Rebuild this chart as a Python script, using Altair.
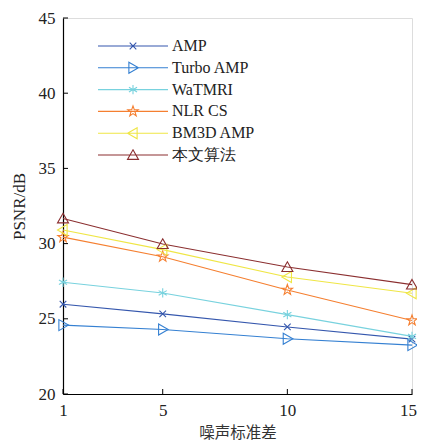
import altair as alt
import pandas as pd

x_vals = [1, 5, 10, 15]
methods = ["AMP", "Turbo AMP", "WaTMRI", "NLR CS", "BM3D AMP", "本文算法"]
amp = [25.97, 25.33, 24.46, 23.65]
turbo_amp = [24.58, 24.29, 23.67, 23.25]
watmri = [27.43, 26.72, 25.28, 23.83]
nlr_cs = [30.43, 29.13, 26.92, 24.89]
bm3d_amp = [30.90, 29.60, 27.78, 26.70]
ours = [31.67, 29.97, 28.44, 27.27]
series = [amp, turbo_amp, watmri, nlr_cs, bm3d_amp, ours]
colors = ["#3557ad", "#3580d2", "#78d2de", "#f57f30", "#efe645", "#8b2f30"]
y_ticks = [20, 25, 30, 35, 40, 45]

# marker paths (unit coordinates)
star = ("M0,-1L0.235,-0.324L0.951,-0.309L0.380,0.124L0.588,0.809L0,0.4"
        "L-0.588,0.809L-0.380,0.124L-0.951,-0.309L-0.235,-0.324Z")
markers = [
    "M-0.6,-0.6L0.6,0.6M-0.6,0.6L0.6,-0.6",
    "M-0.75,-1L1,0L-0.75,1Z",
    "M0,-0.85L0,0.85M-0.74,-0.42L0.74,0.42M-0.74,0.42L0.74,-0.42",
    star,
    "M0.75,-1L-1,0L0.75,1Z",
    "M0,-0.95L1,0.8L-1,0.8Z",
]
msize = 121  # scale factor 5.5 px per unit
half_line = 35 / 5.5
legend_paths = [f"M{-half_line:.3f},0L{half_line:.3f},0" + m for m in markers]

rows = []
for name, vals in zip(methods, series):
    for xv, yv in zip(x_vals, vals):
        rows.append({"x": xv, "y": yv, "method": name})
df = pd.DataFrame(rows)

serif = "Liberation Serif, Times New Roman, serif"
xscale = alt.Scale(domain=[1, 15], nice=False)
yscale = alt.Scale(domain=[20, 45], nice=False, zero=False)

xs = alt.X("x:Q", scale=xscale,
           axis=alt.Axis(values=x_vals, title="噪声标准差", tickSize=0,
                         labelFont=serif, labelFontSize=17, labelColor="#222",
                         labelPadding=8, labelFlush=False,
                         labelOffset=alt.condition("datum.value == 15",
                                                   alt.value(-4), alt.value(0)),
                         titleFont="Noto Sans CJK SC",
                         titleFontSize=15.5, titleFontWeight="normal",
                         titleColor="#333", titlePadding=7, grid=False,
                         domainColor="#000", domainWidth=1.2))
ys = alt.Y("y:Q", scale=yscale,
           axis=alt.Axis(values=y_ticks, title="PSNR/dB", tickSize=0,
                         labelFont=serif, labelFontSize=17, labelColor="#222",
                         labelPadding=8, labelFlush=False,
                         titleFont=serif, titleFontSize=17,
                         titleFontWeight="normal", titleColor="#222",
                         titlePadding=10, grid=False,
                         domainColor="#000", domainWidth=1.2))
cscale = alt.Scale(domain=methods, range=colors)
color = alt.Color("method:N", scale=cscale)

base = alt.Chart(df)
lines = base.mark_line(strokeWidth=1.1).encode(x=xs, y=ys, color=color)

point_layers = []
for name, m in zip(methods, markers):
    point_layers.append(
        base.transform_filter(alt.datum.method == name)
        .mark_point(shape=m, size=msize, strokeWidth=1.1, filled=False, opacity=1)
        .encode(x=xs, y=ys, color=color)
    )

leg = alt.Legend(title=None, orient="none", legendX=62, legendY=20, padding=0,
                 labelFont=serif, labelFontSize=16, labelColor="#222",
                 labelOffset=31, rowPadding=5.8, symbolSize=msize,
                 symbolStrokeWidth=1.1, symbolFillColor="transparent",
                 symbolOpacity=1)
legend_layer = (
    base.transform_filter(alt.datum.x < 0)
    .mark_point(size=msize, strokeWidth=1.1, filled=False, opacity=1)
    .encode(
        x=xs, y=ys,
        color=alt.Color("method:N", scale=cscale, legend=leg),
        shape=alt.Shape("method:N", scale=alt.Scale(domain=methods, range=legend_paths),
                        legend=leg),
    )
)

tick_df = pd.DataFrame({"y": y_ticks})
y_tick_marks = alt.Chart(tick_df).mark_rule(color="#000", strokeWidth=1).encode(
    y=ys, x=alt.value(0), x2=alt.value(5))
xtick_df = pd.DataFrame({"x": x_vals})
x_tick_marks = alt.Chart(xtick_df).mark_rule(color="#000", strokeWidth=1).encode(
    x=xs, y=alt.value(376), y2=alt.value(371))

chart = alt.layer(lines, *point_layers, legend_layer, y_tick_marks, x_tick_marks).properties(
    width=349, height=376,
    autosize=alt.AutoSizeParams(type="none"),
    padding={"left": 55, "top": 10, "right": 5, "bottom": 50},
).configure_view(stroke="#000", strokeWidth=1.2).configure(background="white")

chart.save("out.html", embed_options={"renderer": "svg", "actions": False})
